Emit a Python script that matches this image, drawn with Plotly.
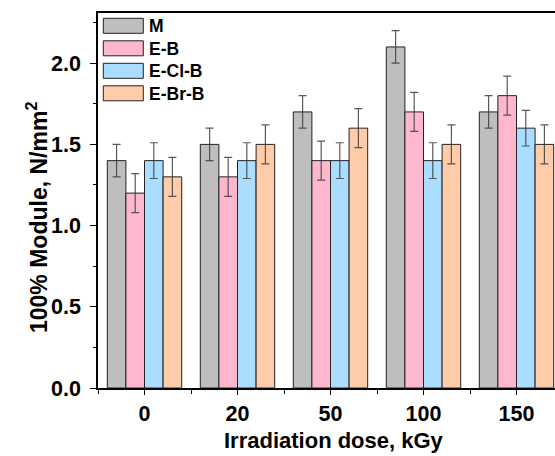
import plotly.graph_objects as go

categories = ["0", "20", "50", "100", "150"]
series_names = ["M", "E-B", "E-Cl-B", "E-Br-B"]
M_vals = [1.4, 1.5, 1.7, 2.1, 1.7]
EB_vals = [1.2, 1.3, 1.4, 1.7, 1.8]
ECl_vals = [1.4, 1.4, 1.4, 1.4, 1.6]
EBr_vals = [1.3, 1.5, 1.6, 1.5, 1.5]
M_err = [0.10, 0.10, 0.10, 0.10, 0.10]
EB_err = [0.12, 0.12, 0.12, 0.12, 0.12]
ECl_err = [0.11, 0.11, 0.11, 0.11, 0.11]
EBr_err = [0.12, 0.12, 0.12, 0.12, 0.12]
x_title = "Irradiation dose, kGy"
y_title = "100% Module, N/mm<sup>2</sup>"

colors = ["#BEBEBE", "#FFB7CD", "#AADDFF", "#FFCCAA"]
values = [M_vals, EB_vals, ECl_vals, EBr_vals]
errors = [M_err, EB_err, ECl_err, EBr_err]

W, H = 555, 456
L, T, B = 98, 13, 68
R = 0
FONT = "Liberation Sans, Arial, sans-serif"

fig = go.Figure()
xs = list(range(len(categories)))
for name, v, e, c in zip(series_names, values, errors, colors):
    fig.add_trace(go.Bar(
        x=xs, y=v, name=name, marker=dict(color=c, line=dict(color="#222222", width=1)),
        error_y=dict(type="data", array=e, visible=True, color="rgba(60,60,60,0.85)",
                     thickness=1.2, width=4),
        showlegend=False,
    ))

pw = W - L - R
ph = H - T - B
def px_x(x):
    return (x - L) / pw
def px_y(y):
    return 1 - (y - T) / ph

shapes = []
annotations = []
# custom legend
for i, (name, c) in enumerate(zip(series_names, colors)):
    y0 = 18.3 + i * 22.5
    shapes.append(dict(type="rect", xref="paper", yref="paper",
                       x0=px_x(103.3), x1=px_x(143.3), y0=px_y(y0), y1=px_y(y0 + 15),
                       fillcolor=c, line=dict(color="#222222", width=1)))
    annotations.append(dict(xref="paper", yref="paper", x=px_x(146.5), y=px_y(y0 + 7.8),
                            xanchor="left", yanchor="middle", showarrow=False,
                            text="<b>%s</b>" % name,
                            font=dict(family=FONT, size=17.5, color="black")))

# axis titles
annotations.append(dict(xref="paper", yref="paper", x=px_x(334), y=px_y(440),
                        xanchor="center", yanchor="middle", showarrow=False,
                        text="<b>%s</b>" % x_title,
                        font=dict(family=FONT, size=22, color="black")))
annotations.append(dict(xref="paper", yref="paper", x=px_x(37), y=px_y(218),
                        xanchor="center", yanchor="middle", showarrow=False, textangle=-90,
                        text="<b>%s</b>" % y_title,
                        font=dict(family=FONT, size=23, color="black")))

fig.update_layout(
    width=W, height=H,
    margin=dict(l=L, r=R, t=T, b=B, pad=0),
    paper_bgcolor="white", plot_bgcolor="white",
    barmode="group", bargap=0.2, bargroupgap=0,
    shapes=shapes, annotations=annotations,
    font=dict(family=FONT, color="black"),
)
fig.update_xaxes(
    range=[-0.5, -0.5 + pw / 93.0],
    tickmode="array", tickvals=xs, ticktext=["<b>%s</b>" % c for c in categories],
    ticks="outside", ticklen=5, tickwidth=1.2, tickcolor="black",
    minor=dict(tickmode="array", tickvals=[x + 0.5 for x in xs] + [-0.5], ticks="outside",
               ticklen=4, tickwidth=1.2, tickcolor="black"),
    showline=True, linecolor="black", linewidth=1.5, mirror=True,
    showgrid=False, zeroline=False,
    tickfont=dict(family=FONT, size=21.5, color="black"),
)
fig.update_yaxes(
    range=[0, 2.309],
    tickmode="array", tickvals=[0, 0.5, 1.0, 1.5, 2.0],
    ticktext=["<b>0.0</b>", "<b>0.5</b>", "<b>1.0</b>", "<b>1.5</b>", "<b>2.0</b>"],
    ticks="outside", ticklen=6, tickwidth=1.2, tickcolor="black",
    ticklabelstandoff=5,
    minor=dict(tickmode="array", tickvals=[0.25, 0.75, 1.25, 1.75, 2.25], ticks="outside",
               ticklen=3, tickwidth=1.2, tickcolor="black"),
    showline=True, linecolor="black", linewidth=1.5, mirror=False,
    showgrid=False, zeroline=False,
    tickfont=dict(family=FONT, size=21.5, color="black"),
)

fig.write_html("out.html")
